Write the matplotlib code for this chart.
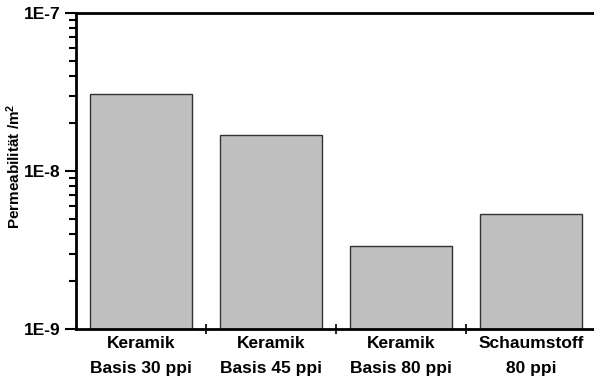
import math
import matplotlib
matplotlib.use('Agg')
import matplotlib.pyplot as plt
from matplotlib.ticker import LogLocator, FixedLocator, NullFormatter, FuncFormatter

plt.rcParams['font.family'] = ['Liberation Sans', 'DejaVu Sans']
plt.rcParams['font.weight'] = 'bold'
plt.rcParams['mathtext.fontset'] = 'custom'
plt.rcParams['mathtext.bf'] = 'Liberation Sans:bold'
plt.rcParams['mathtext.rm'] = 'Liberation Sans:bold'
plt.rcParams['mathtext.default'] = 'bf'

# data
kategorien = ['Keramik\nBasis 30 ppi', 'Keramik\nBasis 45 ppi',
              'Keramik\nBasis 80 ppi', 'Schaumstoff\n80 ppi']
permeabilitaet = [3.06e-8, 1.69e-8, 3.35e-9, 5.34e-9]

fig = plt.figure(figsize=(5.94, 3.82), dpi=100)
ax = fig.add_axes([76 / 594, 53 / 382, 520 / 594, 316 / 382])

x = list(range(len(kategorien)))
ax.bar(x, permeabilitaet, width=0.79, color='#c0c0c0', edgecolor='#333333',
       linewidth=1.0)

ax.set_yscale('log')
ax.set_ylim(1e-9, 1e-7)
ax.set_xlim(-0.5, len(kategorien) - 0.5)

ax.yaxis.set_major_locator(FixedLocator([1e-9, 1e-8, 1e-7]))
ax.yaxis.set_major_formatter(FuncFormatter(lambda v, p: '1E-%d' % round(-math.log10(v))))
ax.yaxis.set_minor_locator(LogLocator(base=10, subs=range(2, 10)))
ax.yaxis.set_minor_formatter(NullFormatter())
ax.tick_params(axis='y', which='major', direction='out', length=8, width=1.5, pad=3)
ax.tick_params(axis='y', which='minor', direction='out', length=5, width=1.5)
for lab in ax.get_yticklabels():
    lab.set_fontsize(12.5)
    lab.set_fontweight('bold')

ax.set_xticks(x)
ax.set_xticklabels(kategorien, fontsize=12.5, fontweight='bold', linespacing=1.8)
ax.xaxis.set_minor_locator(FixedLocator([0.5, 1.5, 2.5]))
ax.tick_params(axis='x', which='major', length=0, pad=5)
ax.tick_params(axis='x', which='minor', direction='inout', length=7, width=1.2)

for s in ['left', 'bottom', 'top']:
    ax.spines[s].set_linewidth(2)
ax.spines['right'].set_visible(False)

ax.set_ylabel('Permeabilität /m$^{2}$', fontsize=11, fontweight='bold')
ax.yaxis.set_label_coords(-0.101, 0.516)

fig.savefig('out.png', dpi=100)
